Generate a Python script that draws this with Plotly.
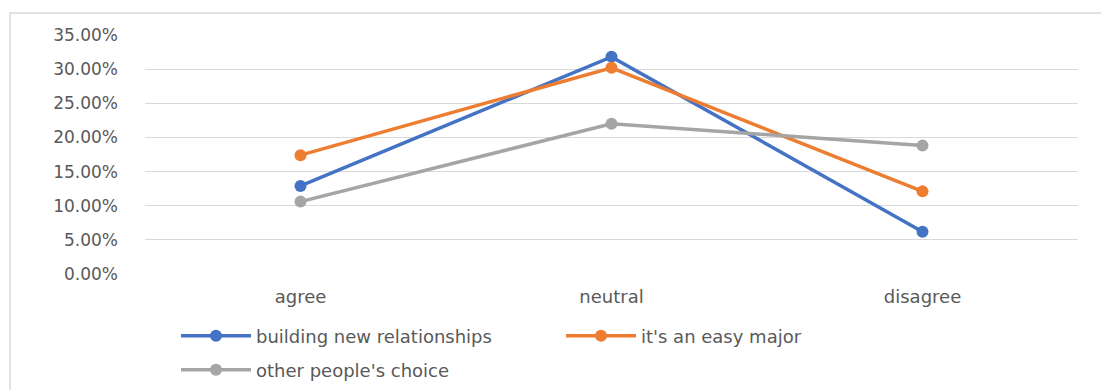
import plotly.graph_objects as go

categories = ["agree", "neutral", "disagree"]
building = [0.129, 0.318, 0.062]
easy_major = [0.174, 0.302, 0.121]
others_choice = [0.106, 0.220, 0.188]
series_names = ["building new relationships", "it's an easy major", "other people's choice"]
colors = ["#4472C4", "#ED7D31", "#A5A5A5"]

TXT = "#595959"
FONT = "DejaVu Sans"

fig = go.Figure()
for name, vals, col, lg in zip(series_names, [building, easy_major, others_choice], colors,
                               ["legend", "legend", "legend2"]):
    fig.add_trace(go.Scatter(
        x=categories, y=vals, name=name, mode="lines+markers",
        line=dict(color=col, width=3.5),
        marker=dict(color=col, size=12),
        legend=lg,
    ))

W, H = 1101, 390
L, R, T, B = 145, 23, 35, 116
pw, ph = W - L - R, H - T - B

def px_x(x):
    return (x - L) / pw

def px_y(y):
    return (H - B - y) / ph

fig.update_layout(
    width=W, height=H,
    margin=dict(l=L, r=R, t=T, b=B, autoexpand=False),
    paper_bgcolor="white", plot_bgcolor="white",
    font=dict(family=FONT, color=TXT, size=16),
    xaxis=dict(
        type="category", range=[-0.5, 2.5], showgrid=False, zeroline=False,
        showline=False, ticks="", tickfont=dict(size=18, color=TXT),
        ticklabelstandoff=10,
    ),
    yaxis=dict(
        range=[0, 0.35], dtick=0.05, tickformat=".2%", showgrid=True,
        gridcolor="#D9D9D9", gridwidth=1, zeroline=False, showline=False,
        ticks="", tickfont=dict(size=17, color=TXT), ticklabelstandoff=26,
    ),
    legend=dict(
        orientation="h", x=px_x(176), xanchor="left", y=px_y(336), yanchor="middle",
        font=dict(size=18, color=TXT), itemwidth=70, entrywidth=300,
        bgcolor="rgba(0,0,0,0)", traceorder="normal",
    ),
    legend2=dict(
        orientation="h", x=px_x(176), xanchor="left", y=px_y(370), yanchor="middle",
        font=dict(size=18, color=TXT), itemwidth=70,
        bgcolor="rgba(0,0,0,0)",
    ),
    shapes=[
        dict(type="rect", xref="paper", yref="paper",
             x0=px_x(10), x1=px_x(1115), y0=px_y(400), y1=px_y(13),
             line=dict(color="#D9D9D9", width=1.5), fillcolor="rgba(0,0,0,0)", layer="below"),
    ],
)

fig.write_html("out.html")
